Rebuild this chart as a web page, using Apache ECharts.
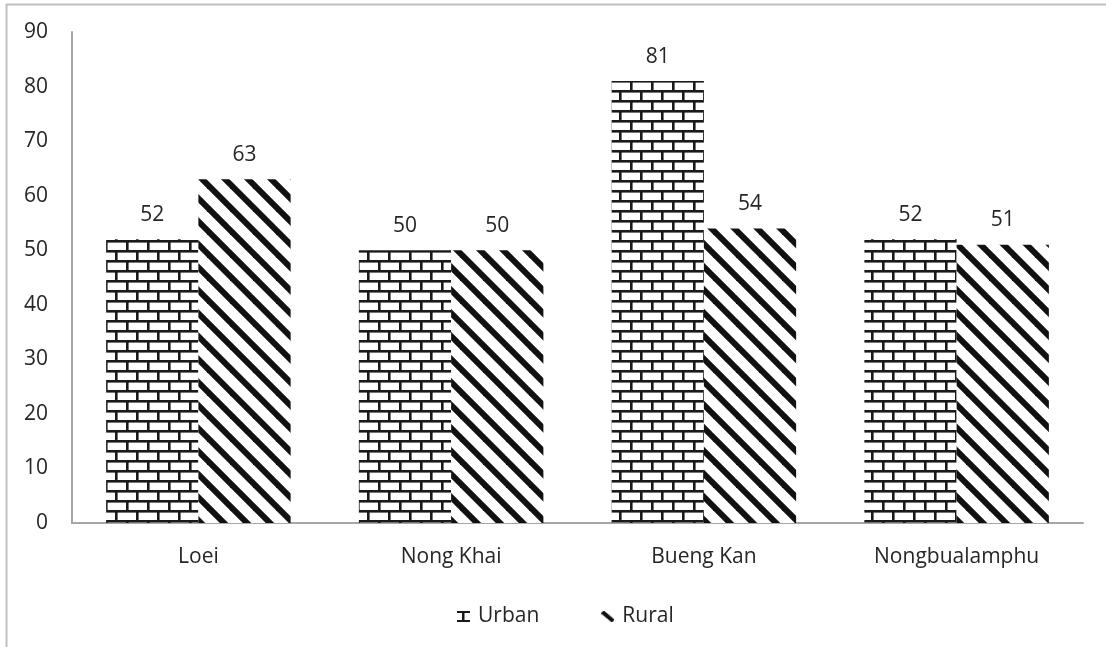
<!DOCTYPE html>
<html>
<head>
<meta charset="utf-8">
<script src="https://cdn.jsdelivr.net/npm/echarts@6/dist/echarts.min.js"></script>
<style>
  html, body { margin: 0; padding: 0; background: #fff; }
  #chart { width: 1106px; height: 647px; }
</style>
</head>
<body>
<div id="chart"></div>
<script>
// data
var provinces = ['Loei', 'Nong Khai', 'Bueng Kan', 'Nongbualamphu'];
var urban = [52, 50, 81, 52];
var rural = [63, 50, 54, 51];
var yTicks = { min: 0, max: 90, interval: 10 };

// brick pattern for Urban
function brickPattern() {
  var c = document.createElement('canvas');
  c.width = 42; c.height = 20;
  var g = c.getContext('2d');
  g.fillStyle = '#fff';
  g.fillRect(0, 0, 42, 20);
  g.fillStyle = '#1a1a1a';
  g.fillRect(0, 0, 42, 2.6);
  g.fillRect(0, 10, 42, 2.6);
  g.fillRect(0, 0, 2.6, 10);
  g.fillRect(21, 0, 2.6, 10);
  g.fillRect(10, 10, 2.6, 10);
  g.fillRect(31, 10, 2.6, 10);
  return c;
}

// diagonal stripes for Rural
function stripePattern() {
  var s = 23;
  var c = document.createElement('canvas');
  c.width = s; c.height = s;
  var g = c.getContext('2d');
  g.fillStyle = '#fff';
  g.fillRect(0, 0, s, s);
  g.strokeStyle = '#111';
  g.lineWidth = 6;
  for (var k = -1; k <= 1; k++) {
    g.beginPath();
    g.moveTo(-s + k * s, -s);
    g.lineTo(2 * s + k * s, 2 * s);
    g.stroke();
  }
  return c;
}

// small legend glyphs
function urbanIcon() {
  var c = document.createElement('canvas');
  c.width = 13; c.height = 11;
  var g = c.getContext('2d');
  g.fillStyle = '#1a1a1a';
  g.fillRect(0, 0, 13, 2);
  g.fillRect(0, 9, 13, 2);
  g.fillRect(5, 0, 2.5, 11);
  return 'image://' + c.toDataURL();
}
function ruralIcon() {
  var c = document.createElement('canvas');
  c.width = 14; c.height = 12;
  var g = c.getContext('2d');
  g.strokeStyle = '#111';
  g.lineWidth = 4.5;
  g.beginPath();
  g.moveTo(1, 1);
  g.lineTo(13, 11);
  g.stroke();
  return 'image://' + c.toDataURL();
}

var font = 'Open Sans';
var txt = '#262626';
var myChart = echarts.init(document.getElementById('chart'));
var option = {
  backgroundColor: '#fff',
  animation: false,
  graphic: [{
    type: 'rect',
    shape: { x: 6.5, y: 4.5, width: 1200, height: 700 },
    style: { fill: 'none', stroke: '#bfbfbf', lineWidth: 2 },
    silent: true
  }],
  grid: { left: 72, right: 23, top: 32, bottom: 124 },
  legend: {
    top: 601,
    left: 452,
    itemWidth: 13,
    itemHeight: 11,
    itemGap: 62,
    textStyle: { fontFamily: font, fontSize: 21, color: txt, padding: [0, 0, 0, 3] },
    data: [
      { name: 'Urban', icon: urbanIcon() },
      { name: 'Rural', icon: ruralIcon() }
    ]
  },
  xAxis: {
    type: 'category',
    data: provinces,
    axisLine: { lineStyle: { color: '#a6a6a6', width: 2 } },
    axisTick: { show: false },
    axisLabel: { margin: 24, fontFamily: font, fontSize: 21, color: txt }
  },
  yAxis: {
    type: 'value',
    min: yTicks.min,
    max: yTicks.max,
    interval: yTicks.interval,
    axisLine: { show: true, lineStyle: { color: '#a6a6a6', width: 2 } },
    axisTick: { show: false },
    splitLine: { show: false },
    axisLabel: { margin: 24, fontFamily: font, fontSize: 21, color: txt }
  },
  series: [
    {
      name: 'Urban',
      type: 'bar',
      data: urban,
      barGap: '0%',
      barCategoryGap: '27%',
      itemStyle: { color: { image: brickPattern(), repeat: 'repeat' } },
      label: { show: true, position: 'top', distance: 14, fontFamily: font, fontSize: 21, color: txt }
    },
    {
      name: 'Rural',
      type: 'bar',
      data: rural,
      barGap: '0%',
      barCategoryGap: '27%',
      itemStyle: { color: { image: stripePattern(), repeat: 'repeat' } },
      label: { show: true, position: 'top', distance: 14, fontFamily: font, fontSize: 21, color: txt }
    }
  ]
};
myChart.setOption(option, true);
</script>
</body>
</html>
